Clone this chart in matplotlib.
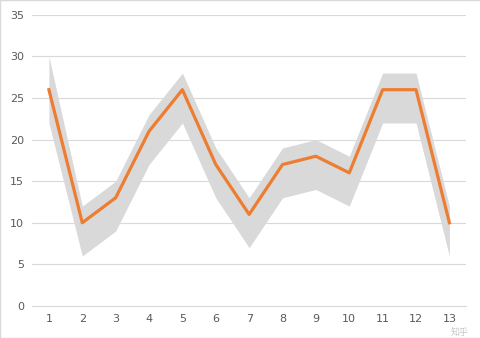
import matplotlib.pyplot as plt
import numpy as np

plt.rcParams['font.family'] = ['DejaVu Sans', 'Noto Sans CJK SC']

cats = [str(i) for i in range(1, 14)]
mid = [26, 10, 13, 21, 26, 17, 11, 17, 18, 16, 26, 26, 10]
upper = [30, 12, 15, 23, 28, 19, 13, 19, 20, 18, 28, 28, 12]
lower = [22, 6, 9, 17, 22, 13, 7, 13, 14, 12, 22, 22, 6]

fig = plt.figure(figsize=(4.81, 3.38), dpi=100)
ax = fig.add_axes([0.067, 0.095, 0.902, 0.861])
x = np.arange(1, len(cats) + 1)

ax.fill_between(x, lower, upper, color='#d9d9d9', lw=0, zorder=2)
ax.plot(x, mid, color='#ed7d31', lw=2.3, zorder=3)

ax.set_xlim(0.5, 13.5)
ax.set_ylim(0, 35)
ax.set_yticks(range(0, 36, 5))
ax.set_xticks(x)
ax.set_xticklabels(cats)
ax.yaxis.grid(True, color='#d9d9d9', lw=0.8, zorder=1)
ax.set_axisbelow(True)
for s in ['top', 'right', 'left']:
    ax.spines[s].set_visible(False)
ax.spines['bottom'].set_color('#d9d9d9')
ax.tick_params(length=0, colors='#595959', labelsize=8, pad=6)

# watermark, kept clear of the tick labels
fig.text(0.975, 0.008, '知乎', fontsize=6.5, color='#c8c8c8', ha='right',
         family=['Noto Sans CJK SC'])

fig.patches.append(plt.Rectangle((0, 0), 1, 1, transform=fig.transFigure,
                                 fill=False, ec='#d9d9d9', lw=1))
fig.savefig('out.png', dpi=100, facecolor='white')
